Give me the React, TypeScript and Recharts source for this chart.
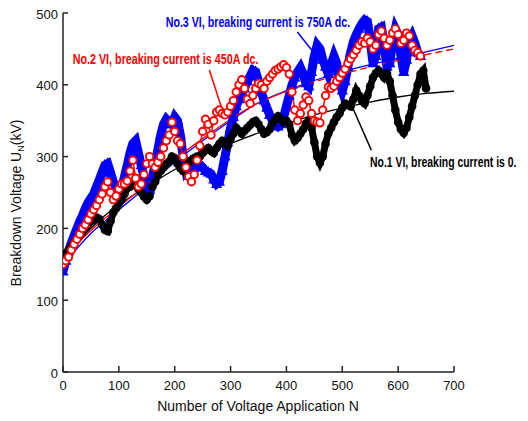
import React from 'react';
import { ComposedChart, Line, XAxis, YAxis, ReferenceLine } from 'recharts';

const STEPS = [0,5,10,15,20,25,30,35,40,45,50,55,60,65,70,75,80,85,90,95,100,105,110,115,120,125,130,135,140,145,150,155,160,165,170,175,180,185,190,195,200,205,210,215,220,225,230,235,240,245,250,255,260,265,270,275,280,285,290,295,300,305,310,315,320,325,330,335,340,345,350,355,360,365,370,375,380,385,390,395,400,405,410,415,420,425,430,435,440,445,450,455,460,465,470,475,480,485,490,495,500,505,510,515,520,525,530,535,540,545,550,555,560,565,570,575,580,585,590,595,600,605,610,615,620,625,630,635,640,645,650];

const NO1_BLACK = [
155,165,170,175,180,185,190,195,200,205,
210,212,215,213,205,198,196,210,222,228,
235,240,248,256,258,262,260,255,250,244,
240,245,258,265,275,280,285,290,293,300,
298,290,284,280,286,292,295,298,300,300,
305,309,312,308,305,312,318,322,320,315,
325,332,340,336,332,336,340,344,348,350,
345,338,332,334,338,346,352,356,352,348,
350,345,330,322,326,332,338,346,350,340,
320,300,291,300,318,332,340,348,355,360,
368,374,372,370,380,392,385,378,374,385,
398,410,416,420,415,410,416,405,385,365,
348,338,333,340,355,370,385,400,415,420,
395];

const NO2_RED = [
150,155,160,170,178,185,192,200,205,212,
220,226,232,240,248,258,265,250,240,245,
255,262,262,266,280,295,270,258,262,275,
290,300,290,285,292,300,312,322,330,348,
335,322,318,300,285,272,265,275,295,315,
335,352,345,330,350,362,365,360,358,362,
370,378,390,400,407,395,380,374,385,395,
402,400,395,405,410,415,420,422,425,428,
424,415,390,365,350,360,372,383,378,360,
350,348,347,365,385,397,395,398,405,410,
416,422,430,436,442,448,455,460,458,465,
460,450,455,470,475,465,455,462,472,478,
470,458,462,472,468,455,448,445,440];

const NO3_BLUE = [
140,155,168,180,190,200,210,218,228,236,
242,248,258,268,278,288,290,278,265,256,
250,255,272,288,305,318,322,305,288,272,
258,254,270,290,310,330,345,352,348,345,
355,350,330,300,280,285,292,288,285,288,
285,280,278,276,268,262,265,280,300,320,
340,355,370,380,388,395,405,412,420,418,
405,390,378,368,358,350,345,342,345,355,
370,385,400,410,418,424,415,402,398,418,
440,455,450,435,425,415,428,440,430,405,
392,405,425,445,460,470,478,485,490,488,
462,430,440,478,480,455,425,430,460,478,
470,440,418,435,460,468,458,445,440];

const FIT_N = [0,10,25,50,75,100,150,200,250,300,350,400,450,500,550,600,650,700];
const FIT_NO1 = [152,165,180,200,218,233,258,282,302,318,333,346,358,368,376,383,388,391];
const FIT_NO2 = [155,165,178,197,214,230,262,296,325,352,375,391,404,415,425,434,442,450];
const FIT_NO3 = [148,158,172,193,210,226,258,292,322,350,375,392,406,418,428,437,446,455];

const X_TICKS = [0,100,200,300,400,500,600,700];
const Y_TICKS = [0,100,200,300,400,500];

const LABEL_NO1 = 'No.1 VI, breaking current is 0.';
const LABEL_NO2 = 'No.2 VI, breaking current is 450A dc.';
const LABEL_NO3 = 'No.3 VI, breaking current is 750A dc.';

const FONT = '"Liberation Sans", Arial, Helvetica, sans-serif';

const rows = (vals: number[]) => vals.map((v, i) => ({ n: STEPS[i], v }));
const fitRows = (vals: number[]) => vals.map((v, i) => ({ n: FIT_N[i], v }));

const blackRows = rows(NO1_BLACK);
const redRows = rows(NO2_RED);
const blueRows = rows(NO3_BLUE);
const fit1 = fitRows(FIT_NO1);
const fit2 = fitRows(FIT_NO2);
const fit2Solid = fit2.filter((d) => d.n <= 400);
const fit2Dashed = fit2.filter((d) => d.n >= 400);
const fit3 = fitRows(FIT_NO3);

const blueDot = (p: any) => {
  const { cx, cy, index } = p;
  if (cx == null || cy == null) return <g key={`b${index}`} />;
  return (
    <polygon
      key={`b${index}`}
      points={`${cx},${cy - 6.5} ${cx - 5.6},${cy + 4} ${cx + 5.6},${cy + 4}`}
      fill="#0000ff"
    />
  );
};
const blackDot = (p: any) => {
  const { cx, cy, index } = p;
  if (cx == null || cy == null) return <g key={`k${index}`} />;
  return <circle key={`k${index}`} cx={cx} cy={cy} r={4.3} fill="#000" />;
};
const redDot = (p: any) => {
  const { cx, cy, index } = p;
  if (cx == null || cy == null) return <g key={`r${index}`} />;
  return <circle key={`r${index}`} cx={cx} cy={cy} r={3.7} fill="#fff" stroke="#ff0000" strokeWidth={1.9} />;
};

const XTick = (props: any) => {
  const { x, y, payload } = props;
  return (
    <g>
      <line x1={x} x2={x} y1={y} y2={y - 6} stroke="#222" strokeWidth={1.5} />
      <text x={x} y={y + 18} textAnchor="middle" fontSize={13} fontFamily={FONT} fill="#111">
        {payload.value}
      </text>
    </g>
  );
};

const YTick = (props: any) => {
  const { x, y, payload } = props;
  return (
    <g>
      <line x1={x} x2={x + 5} y1={y} y2={y} stroke="#222" strokeWidth={1.5} />
      <text x={x - 5} y={y + 1} dy="0.36em" textAnchor="end" fontSize={13} fontFamily={FONT} fill="#111">
        {payload.value}
      </text>
    </g>
  );
};

const Note = ({ x, y, sx, color, children }: any) => (
  <text
    transform={`translate(${x},${y}) scale(${sx},1)`}
    x={0}
    y={0}
    fontSize={14}
    fontWeight="bold"
    fontFamily={FONT}
    fill={color}
  >
    {children}
  </text>
);

export default function App() {
  return (
    <div style={{ position: 'relative', width: 512, height: 413 }}>
      <ComposedChart width={512} height={413} margin={{ top: 5, right: 66, bottom: 19, left: 10 }}>
        <XAxis
          type="number"
          dataKey="n"
          domain={[0, 700]}
          ticks={X_TICKS}
          interval={0}
          height={30}
          tickSize={0}
          tickMargin={0}
          tickLine={false}
          tick={XTick}
          axisLine={{ stroke: '#222', strokeWidth: 1.5 }}
          allowDataOverflow
        />
        <YAxis
          type="number"
          domain={[0, 500]}
          ticks={Y_TICKS}
          interval={0}
          width={45}
          tickSize={0}
          tickMargin={0}
          tickLine={false}
          tick={YTick}
          axisLine={{ stroke: '#222', strokeWidth: 1.5 }}
          allowDataOverflow
        />
        <Line data={blueRows} dataKey="v" type="linear" stroke="#0000ff" strokeWidth={9} dot={blueDot} activeDot={false} isAnimationActive={false} />
        <Line data={blackRows} dataKey="v" type="linear" stroke="#000" strokeWidth={7} dot={blackDot} activeDot={false} isAnimationActive={false} />
        <Line data={redRows} dataKey="v" type="linear" stroke="#ff0000" strokeWidth={1.5} dot={redDot} activeDot={false} isAnimationActive={false} />
        <Line data={fit1} dataKey="v" type="monotone" stroke="#000" strokeWidth={1.3} dot={false} activeDot={false} isAnimationActive={false} />
        <Line data={fit3} dataKey="v" type="monotone" stroke="#0000ff" strokeWidth={1.3} dot={false} activeDot={false} isAnimationActive={false} />
        <Line data={fit2Solid} dataKey="v" type="monotone" stroke="#ff0000" strokeWidth={1.3} dot={false} activeDot={false} isAnimationActive={false} />
        <Line data={fit2Dashed} dataKey="v" type="monotone" stroke="#ff0000" strokeWidth={1.4} strokeDasharray="7 4" dot={false} activeDot={false} isAnimationActive={false} />
        <ReferenceLine segment={[{ x: 419.5, y: 473.5 }, { x: 448, y: 445.7 }]} stroke="#0000ff" strokeWidth={1.5} ifOverflow="visible" />
        <ReferenceLine segment={[{ x: 262, y: 420.6 }, { x: 285.2, y: 365 }]} stroke="#ff0000" strokeWidth={1.5} ifOverflow="visible" />
        <ReferenceLine segment={[{ x: 518, y: 369 }, { x: 552, y: 309 }]} stroke="#000" strokeWidth={1.5} ifOverflow="visible" />
      </ComposedChart>
      <svg width={512} height={413} style={{ position: 'absolute', left: 0, top: 0, pointerEvents: 'none' }}>
        <Note x={157.7} y={19} sx={0.762} color="#0000ff">{LABEL_NO3}</Note>
        <Note x={64.7} y={55.5} sx={0.768} color="#ff0000">{LABEL_NO2}</Note>
        <Note x={362} y={159} sx={0.745} color="#000">{LABEL_NO1}</Note>
        <text x={250} y={403} textAnchor="middle" fontSize={14} fontFamily={FONT} fill="#111">
          Number of Voltage Application N
        </text>
        <text transform="translate(13,195) rotate(-90)" textAnchor="middle" fontSize={14} fontFamily={FONT} fill="#111">
          Breakdown Voltage U<tspan fontSize={9} dy={3}>N</tspan><tspan dy={-3}>(kV)</tspan>
        </text>
      </svg>
    </div>
  );
}
